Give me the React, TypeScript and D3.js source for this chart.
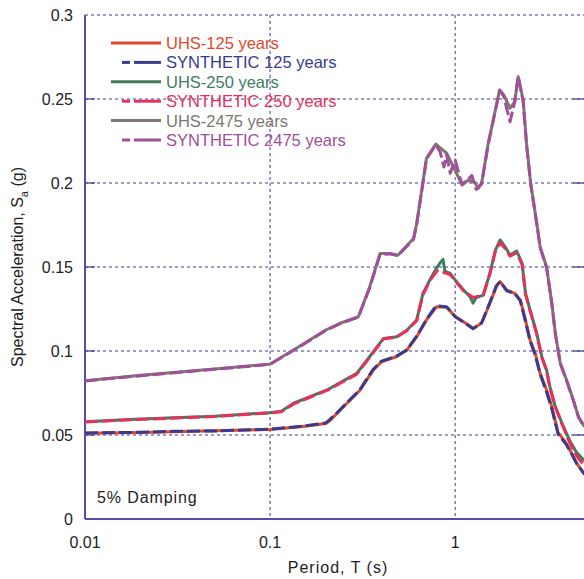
import React from "react";
import * as d3 from "d3";

// ---- data (period T in s, Sa in g) ----
const uhs125: [number, number][] = [
  [0.01, 0.051], [0.02, 0.0515], [0.05, 0.0525], [0.1, 0.0533], [0.15, 0.0551], [0.2, 0.0568],
  [0.21, 0.0585], [0.23, 0.0629], [0.26, 0.0689], [0.305, 0.0765], [0.36, 0.0885], [0.4, 0.0936],
  [0.48, 0.0966], [0.55, 0.1006], [0.62, 0.1085], [0.7, 0.1185], [0.795, 0.1264], [0.9, 0.1262],
  [1.0, 0.1204], [1.11, 0.1174], [1.25, 0.1135], [1.39, 0.1165], [1.54, 0.1284], [1.67, 0.1383],
  [1.75, 0.1413], [1.9, 0.1363], [2.1, 0.1343], [2.25, 0.1304], [2.4, 0.1185], [2.54, 0.1065],
  [2.71, 0.0986], [2.88, 0.0867], [3.12, 0.0768], [3.33, 0.0668], [3.6, 0.0515], [3.98, 0.045],
  [4.26, 0.0391], [4.54, 0.0331], [5.0, 0.0268],
];
const syn125: [number, number][] = [
  [0.01, 0.0512], [0.02, 0.0516], [0.03, 0.0522], [0.05, 0.0524], [0.08, 0.0531], [0.1, 0.0534], [0.15, 0.0553],
  [0.2, 0.0572], [0.21, 0.0592], [0.23, 0.0632], [0.26, 0.0692], [0.305, 0.0768], [0.36, 0.0889],
  [0.4, 0.094], [0.48, 0.0968], [0.55, 0.1008], [0.62, 0.1088], [0.7, 0.1188], [0.78, 0.1262],
  [0.82, 0.1268], [0.9, 0.1262], [1.0, 0.1206], [1.11, 0.1172], [1.25, 0.1132], [1.39, 0.1168],
  [1.54, 0.1288], [1.67, 0.1388], [1.75, 0.1413], [1.9, 0.1358], [2.1, 0.1343], [2.25, 0.1298],
  [2.4, 0.1175], [2.54, 0.106], [2.71, 0.0975], [2.88, 0.0862], [3.12, 0.0755], [3.33, 0.0655],
  [3.6, 0.0505], [3.98, 0.0445], [4.26, 0.0388], [4.54, 0.0329], [5.0, 0.0265],
];
const uhs250: [number, number][] = [
  [0.01, 0.0579], [0.02, 0.0595], [0.05, 0.0612], [0.1, 0.0633], [0.115, 0.0642], [0.134, 0.0689],
  [0.203, 0.0768], [0.294, 0.0867], [0.345, 0.0966], [0.41, 0.1075], [0.484, 0.1085], [0.55, 0.1125],
  [0.62, 0.1185], [0.67, 0.1343], [0.73, 0.1423], [0.795, 0.1495], [0.83, 0.1525], [0.86, 0.1545],
  [0.88, 0.1475], [0.94, 0.1462], [1.0, 0.1423], [1.11, 0.1363], [1.2, 0.1325], [1.25, 0.1285],
  [1.3, 0.1318], [1.42, 0.1333], [1.54, 0.1462], [1.65, 0.1601], [1.75, 0.1661], [1.86, 0.1621],
  [1.98, 0.1571], [2.15, 0.1595], [2.3, 0.1522], [2.4, 0.1343], [2.54, 0.1244], [2.76, 0.1105],
  [2.94, 0.0966], [3.12, 0.0887], [3.25, 0.0788], [3.48, 0.0668], [3.78, 0.057], [4.18, 0.0462],
  [4.54, 0.0395], [5.0, 0.0345],
];
const syn250: [number, number][] = [
  [0.01, 0.0578], [0.02, 0.0593], [0.05, 0.061], [0.1, 0.0632], [0.115, 0.0638], [0.134, 0.0685],
  [0.203, 0.0765], [0.294, 0.0862], [0.345, 0.0962], [0.41, 0.1072], [0.484, 0.1083], [0.55, 0.1122],
  [0.62, 0.1182], [0.67, 0.1335], [0.73, 0.1418], [0.8, 0.1478], [0.86, 0.1468], [0.94, 0.1455],
  [1.0, 0.1418], [1.11, 0.1358], [1.25, 0.1318], [1.42, 0.1335], [1.54, 0.1458], [1.65, 0.1595],
  [1.75, 0.1645], [1.86, 0.1612], [1.98, 0.1565], [2.15, 0.1585], [2.3, 0.1515], [2.4, 0.1338],
  [2.54, 0.124], [2.76, 0.11], [2.94, 0.0962], [3.12, 0.0882], [3.25, 0.0785], [3.48, 0.0665],
  [3.78, 0.0565], [4.18, 0.0448], [4.54, 0.0375], [5.0, 0.0315],
];
const uhs2475: [number, number][] = [
  [0.01, 0.0823], [0.02, 0.0855], [0.05, 0.0893], [0.0883, 0.0917], [0.1, 0.0923], [0.134, 0.1006],
  [0.2, 0.1125], [0.239, 0.1165], [0.3, 0.1204], [0.345, 0.138], [0.393, 0.158], [0.445, 0.158],
  [0.49, 0.157], [0.596, 0.167], [0.62, 0.176], [0.66, 0.1958], [0.7, 0.2147], [0.786, 0.2232],
  [0.9, 0.2177], [1.0, 0.2075], [1.09, 0.1988], [1.18, 0.2018], [1.28, 0.2003], [1.33, 0.1968],
  [1.39, 0.1998], [1.51, 0.2236], [1.62, 0.2395], [1.74, 0.2554], [1.83, 0.2524], [1.98, 0.2445],
  [2.1, 0.2484], [2.19, 0.2633], [2.33, 0.2494], [2.43, 0.2236], [2.56, 0.1998], [2.77, 0.175],
  [2.88, 0.162], [3.12, 0.15], [3.33, 0.1284], [3.48, 0.1105], [3.7, 0.0927], [4.0, 0.0827],
  [4.35, 0.0708], [4.64, 0.0609], [5.0, 0.0549],
];
const syn2475: [number, number][] = [
  [0.01, 0.0822], [0.02, 0.0853], [0.05, 0.0891], [0.0883, 0.0915], [0.1, 0.0921], [0.134, 0.1004],
  [0.2, 0.1122], [0.239, 0.1163], [0.3, 0.1202], [0.345, 0.1375], [0.393, 0.1575], [0.445, 0.1578],
  [0.49, 0.1568], [0.596, 0.1665], [0.62, 0.1755], [0.66, 0.1952], [0.7, 0.2142], [0.786, 0.2228],
  [0.83, 0.2185], [0.87, 0.2095], [0.9, 0.2168], [0.94, 0.2058], [1.0, 0.2137], [1.06, 0.2035],
  [1.09, 0.1992], [1.18, 0.2025], [1.23, 0.2045], [1.3, 0.1962], [1.39, 0.1995], [1.51, 0.2232],
  [1.62, 0.239], [1.74, 0.2552], [1.83, 0.2515], [1.98, 0.2365], [2.1, 0.2484], [2.19, 0.2635],
  [2.33, 0.2488], [2.43, 0.223], [2.56, 0.1995], [2.77, 0.1745], [2.88, 0.1615], [3.12, 0.1495],
  [3.33, 0.128], [3.48, 0.11], [3.7, 0.0925], [4.0, 0.0825], [4.35, 0.0705], [4.64, 0.0606],
  [5.0, 0.0546],
];

const seriesNames = [
  "UHS-125 years", "SYNTHETIC 125 years", "UHS-250 years",
  "SYNTHETIC 250 years", "UHS-2475 years", "SYNTHETIC 2475 years",
];
const seriesData = [uhs125, syn125, uhs250, syn250, uhs2475, syn2475];
const seriesColors = ["#e0482a", "#3b3a8e", "#3e7d5e", "#e8305c", "#7e7670", "#a04f98"];
const seriesDashed = [false, true, false, true, false, true];

const yTicks = [0, 0.05, 0.1, 0.15, 0.2, 0.25, 0.3];
const yTickLabels = ["0", "0.05", "0.1", "0.15", "0.2", "0.25", "0.3"];
const xTicks = [0.01, 0.1, 1];
const xTickLabels = ["0.01", "0.1", "1"];

const W = 584, H = 579;
const left = 85, right = 584.5, top = 15, bottom = 519;
const FONT = "'Liberation Sans', Arial, sans-serif";

export default function App() {
  const x = d3.scaleLog().domain([0.01, 5]).range([left, right]);
  const y = d3.scaleLinear().domain([0, 0.3]).range([bottom, top]);
  const line = d3.line<[number, number]>().x(d => x(d[0])).y(d => y(d[1]));
  const gridColor = "#3a3a90";

  return (
    <svg width={W} height={H} style={{ position: "absolute", left: 0, top: 0, background: "#fff" }}
      fontFamily={FONT}>
      <defs>
        <clipPath id="plot">
          <rect x={left} y={top - 2} width={W - left} height={bottom - top + 2} />
        </clipPath>
      </defs>
      {/* horizontal grid */}
      {yTicks.filter(t => t > 0).map(t => (
        <line key={"gy" + t} x1={left} x2={W} y1={y(t)} y2={y(t)} stroke={gridColor}
          strokeWidth={1} strokeDasharray="3,3" />
      ))}
      {/* vertical grid */}
      {xTicks.filter(t => t > 0.01).map(t => (
        <line key={"gx" + t} x1={x(t)} x2={x(t)} y1={top} y2={bottom} stroke={gridColor}
          strokeWidth={1} strokeDasharray="3,3" />
      ))}
      {/* inner ticks */}
      {yTicks.filter(t => t > 0 && t < 0.3).map(t => (
        <g key={"ty" + t}>
          <line x1={left} x2={left + 10} y1={y(t)} y2={y(t)} stroke={gridColor} strokeWidth={1.2} />
          <line x1={W - 11} x2={W} y1={y(t)} y2={y(t)} stroke={gridColor} strokeWidth={1.2} />
        </g>
      ))}
      {/* axes */}
      <line x1={left} x2={left} y1={top} y2={bottom} stroke="#5050a8" strokeWidth={2} />
      <line x1={left} x2={W} y1={bottom} y2={bottom} stroke="#5050a8" strokeWidth={2} />
      {/* series */}
      <g clipPath="url(#plot)">
        {seriesData.map((d, i) => (
          <path key={"s" + i} d={line(d) || ""} fill="none" stroke={seriesColors[i]}
            strokeWidth={3} strokeDasharray={seriesDashed[i] ? "13,4" : undefined}
            strokeLinejoin="round" />
        ))}
      </g>
      {/* y tick labels */}
      {yTicks.map((t, i) => (
        <text key={"ly" + t} x={73} y={y(t)} dy="0.36em" textAnchor="end" fontSize={16} fill="#222">
          {yTickLabels[i]}
        </text>
      ))}
      {/* x tick labels */}
      {xTicks.map((t, i) => (
        <text key={"lx" + t} x={x(t)} y={548} textAnchor="middle" fontSize={16} fill="#222">
          {xTickLabels[i]}
        </text>
      ))}
      <text x={338} y={573} textAnchor="middle" fontSize={16} letterSpacing={1} fill="#222">Period, T (s)</text>
      <text transform="translate(23,267) rotate(-90)" textAnchor="middle" fontSize={16} fill="#222">
        Spectral Acceleration, S<tspan fontSize={11} dy={5}>a</tspan><tspan dy={-5}> (g)</tspan>
      </text>
      <text x={97} y={503} fontSize={16} letterSpacing={0.9} fill="#222">5% Damping</text>
      {/* legend */}
      {seriesNames.map((n, i) => {
        const ly = 43 + i * 19.4;
        return (
          <g key={"lg" + i}>
            {seriesDashed[i] ? (
              <>
                <line x1={122} x2={130} y1={ly} y2={ly} stroke={seriesColors[i]} strokeWidth={3} />
                <line x1={134} x2={161} y1={ly} y2={ly} stroke={seriesColors[i]} strokeWidth={3} />
              </>
            ) : (
              <line x1={111} x2={161} y1={ly} y2={ly} stroke={seriesColors[i]} strokeWidth={3} />
            )}
            <text x={166} y={ly} dy="0.36em" fontSize={16.5} fill={seriesColors[i]}>{n}</text>
          </g>
        );
      })}
    </svg>
  );
}
